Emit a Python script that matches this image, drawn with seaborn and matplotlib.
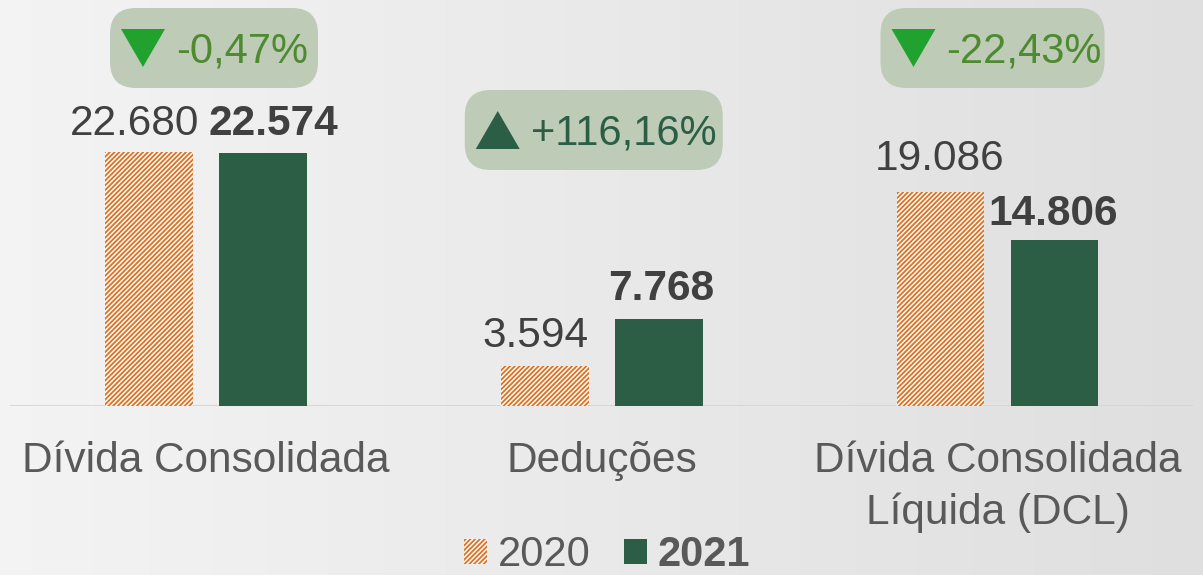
import numpy as np
import pandas as pd
import seaborn as sns
import matplotlib.pyplot as plt
from matplotlib.patches import FancyBboxPatch, Polygon, Patch
from matplotlib.transforms import IdentityTransform

# Data
categories = ['Dívida Consolidada', 'Deduções', 'Dívida Consolidada\nLíquida (DCL)']
years = ['2020', '2021']
v2020 = [22680, 3594, 19086]
v2021 = [22574, 7768, 14806]
variation = ['-0,47%', '+116,16%', '-22,43%']

# Colours
GREEN = '#2C5E46'
ORANGE = '#E07020'
LIGHT_GREEN = '#21A22E'
TXT_GREEN = '#4E8A30'
BADGE = '#BECBB6'
GREY_TXT = '#595959'
DARK_TXT = '#404040'

sns.set_theme(style='white')
plt.rcParams['font.family'] = ['Liberation Sans', 'DejaVu Sans']
plt.rcParams['hatch.linewidth'] = 1.3

W, H = 1203, 575
fig = plt.figure(figsize=(W / 100, H / 100), dpi=100)

# background gradient
bg = fig.add_axes([0, 0, 1, 1])
g = np.linspace(0.955, 0.875, 256)
bg.imshow(np.dstack([g, g, g]).repeat(2, axis=0), aspect='auto', extent=[0, 1, 0, 1])
bg.axis('off')

# main axes: bottom edge at the bar baseline
ax = fig.add_axes([0, 169 / H, 1, 406 / H])
ax.patch.set_alpha(0)

df = pd.DataFrame({'cat': categories * 2,
                   'ano': [years[0]] * 3 + [years[1]] * 3,
                   'valor': v2020 + v2021})
sns.barplot(data=df, x='cat', y='valor', hue='ano', palette={'2020': 'white', '2021': GREEN},
            width=0.576, gap=0.229, saturation=1, legend=False, ax=ax, zorder=2)

for bar in ax.containers[0]:
    bar.set_hatch('///////')
    bar.set_edgecolor(ORANGE)
    bar.set_linewidth(0)
for bar in ax.containers[1]:
    bar.set_linewidth(0)

ax.set_xlim(-206 / 395.75, (W - 206) / 395.75)
ax.set_ylim(0, 406 * 89.3)
ax.set_yticks([])
ax.set_xlabel('')
ax.set_ylabel('')
ax.set_xticks(range(3))
ax.set_xticklabels(categories, fontsize=30.5, color=GREY_TXT, linespacing=1.38)
ax.tick_params(axis='x', length=0, pad=25)
for s in ax.spines.values():
    s.set_visible(False)
ax.axhline(0, xmin=10 / W, xmax=1192 / W, color='#D5D5D5', lw=2, zorder=1)

# value labels (dx, dy in px)
def fmt(v):
    return f'{v:,.0f}'.replace(',', '.')

nudge = [[(-14, 17), (-9, 19), (-1, 22)],
         [(10, 18), (2, 19), (-1, 15)]]
for j, vals in enumerate([v2020, v2021]):
    for i, bar in enumerate(ax.containers[j]):
        dx, dy = nudge[j][i]
        ax.annotate(fmt(vals[i]), (bar.get_x() + bar.get_width() / 2, bar.get_height()),
                    xytext=(dx * 0.72, dy * 0.72), textcoords='offset points',
                    ha='center', va='baseline', fontsize=30.5, color=DARK_TXT,
                    fontweight='bold' if j == 1 else 'normal', annotation_clip=False)

# variation badges (pixel layout, y from top)
badge_dx = [8, -8, -5]
badge_w = [208, 258, 224]
badge_top = [8, 90, 8]
bh = 80
idt = IdentityTransform()
for i, txt in enumerate(variation):
    cx = ax.transData.transform((i, 0))[0] + badge_dx[i]
    x0 = cx - badge_w[i] / 2
    y0 = H - badge_top[i] - bh
    fig.patches.append(FancyBboxPatch((x0, y0), badge_w[i], bh,
                                      boxstyle='round,pad=0,rounding_size=26',
                                      fc=BADGE, ec='none', transform=idt, figure=fig))
    up = txt.startswith('+')
    tcol = GREEN if up else LIGHT_GREEN
    tx0 = x0 + 11
    ty_top = y0 + bh - 21
    ty_bot = y0 + bh - 59
    if up:
        pts = [(tx0, ty_bot), (tx0 + 44, ty_bot), (tx0 + 22, ty_top)]
    else:
        pts = [(tx0, ty_top), (tx0 + 44, ty_top), (tx0 + 22, ty_bot)]
    fig.patches.append(Polygon(pts, closed=True, fc=tcol, ec='none', transform=idt, figure=fig))
    fig.text(tx0 + 55, y0 + bh - 54, txt, transform=idt, ha='left', va='baseline',
             fontsize=30, color=GREEN if up else TXT_GREEN)

# legend
handles = [Patch(facecolor='white', edgecolor=ORANGE, hatch='///////', linewidth=0),
           Patch(facecolor=GREEN, edgecolor='none')]
leg = fig.legend(handles, years, loc='center', bbox_to_anchor=(607 / W, 20 / H), ncol=2,
                 frameon=False, fontsize=30, handlelength=0.55, handleheight=0.55,
                 handletextpad=0.25, columnspacing=0.8, labelcolor=GREY_TXT)
leg.get_texts()[1].set_fontweight('bold')

fig.savefig('out.png', dpi=100)
